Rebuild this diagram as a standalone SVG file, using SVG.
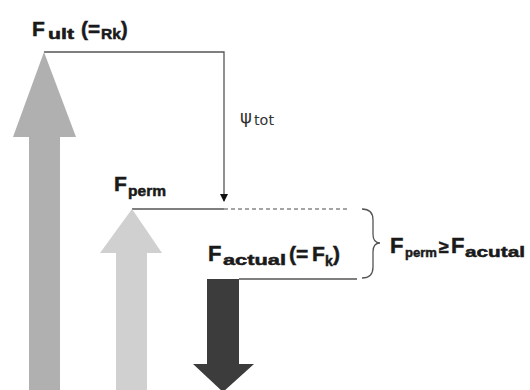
<svg xmlns="http://www.w3.org/2000/svg" width="530" height="390" viewBox="0 0 530 390">
<style>
.lbl{font-family:"Liberation Sans",Arial,sans-serif;font-weight:bold;fill:#1a1a1a;stroke:#1a1a1a;stroke-width:0.5}
.psi{font-family:"DejaVu Sans","Liberation Sans",sans-serif;fill:#333}
.ln{stroke:#555;stroke-width:1.3;fill:none}
.dash{stroke:#888;stroke-width:1.3;fill:none;stroke-dasharray:4 3}
</style>
<defs>
<marker id="ah" markerWidth="8" markerHeight="8" refX="7" refY="4" orient="auto" markerUnits="userSpaceOnUse">
<path d="M0,0 L8,4 L0,8 z" fill="#111"/>
</marker>
</defs>
<g id="connectors">
<path class="ln" d="M44,52 H224 V201" marker-end="url(#ah)"/>
<path class="ln" d="M132,209 H224"/>
<path class="dash" d="M224,209 H350"/>
<path class="ln" d="M239,279 H357"/>
<path class="ln" stroke-width="1" d="M362,209 Q373,209 373,220 V234 Q373,243 380,243 Q373,243 373,252 V267 Q373,278 362,278"/>
</g>
<g id="f-ult-arrow">
<path d="M44,52 L76,137 L60,137 L60,390 L29,390 L29,137 L13,137 Z" fill="#b0b0b0"/>
</g>
<g id="f-perm-arrow">
<path d="M132,209 L162,253 L147,253 L147,390 L116,390 L116,253 L100,253 Z" fill="#d0d0d0"/>
</g>
<g id="f-actual-arrow">
<path d="M207,279 L239,279 L239,364 L254,364 L223,392 L193,364 L207,364 Z" fill="#3c3c3c"/>
</g>
<g id="label-fult">
<text class="lbl" x="32" y="36" font-size="21">F</text>
<text class="lbl" x="48" y="39" font-size="15" textLength="26" lengthAdjust="spacingAndGlyphs">ult</text>
<text class="lbl" x="81" y="36" font-size="20" textLength="19" lengthAdjust="spacingAndGlyphs">(=</text>
<text class="lbl" x="101" y="39" font-size="15" textLength="20" lengthAdjust="spacingAndGlyphs">Rk</text>
<text class="lbl" x="121" y="36" font-size="20">)</text>
</g>
<g id="label-psi">
<text class="psi" x="240" y="123" font-size="18">ψ</text>
<text class="psi" x="254" y="125" font-size="14" textLength="20" lengthAdjust="spacingAndGlyphs">tot</text>
</g>
<g id="label-fperm">
<text class="lbl" x="114" y="191" font-size="21">F</text>
<text class="lbl" x="128" y="196" font-size="15" textLength="38" lengthAdjust="spacingAndGlyphs">perm</text>
</g>
<g id="label-factual">
<text class="lbl" x="208" y="261" font-size="22">F</text>
<text class="lbl" x="223" y="265" font-size="15" textLength="63" lengthAdjust="spacingAndGlyphs">actual</text>
<text class="lbl" x="289" y="261" font-size="21">(=</text>
<text class="lbl" x="312" y="261" font-size="21">F</text>
<text class="lbl" x="325" y="266" font-size="14">k</text>
<text class="lbl" x="333" y="261" font-size="21">)</text>
</g>
<g id="label-compare">
<text class="lbl" x="390" y="253" font-size="22">F</text>
<text class="lbl" x="405" y="257" font-size="13.5" textLength="32" lengthAdjust="spacingAndGlyphs">perm</text>
<text class="lbl" x="439" y="253" font-size="18">≥</text>
<text class="lbl" x="451" y="253" font-size="22">F</text>
<text class="lbl" x="465" y="257" font-size="15" textLength="60" lengthAdjust="spacingAndGlyphs">acutal</text>
</g>
</svg>
